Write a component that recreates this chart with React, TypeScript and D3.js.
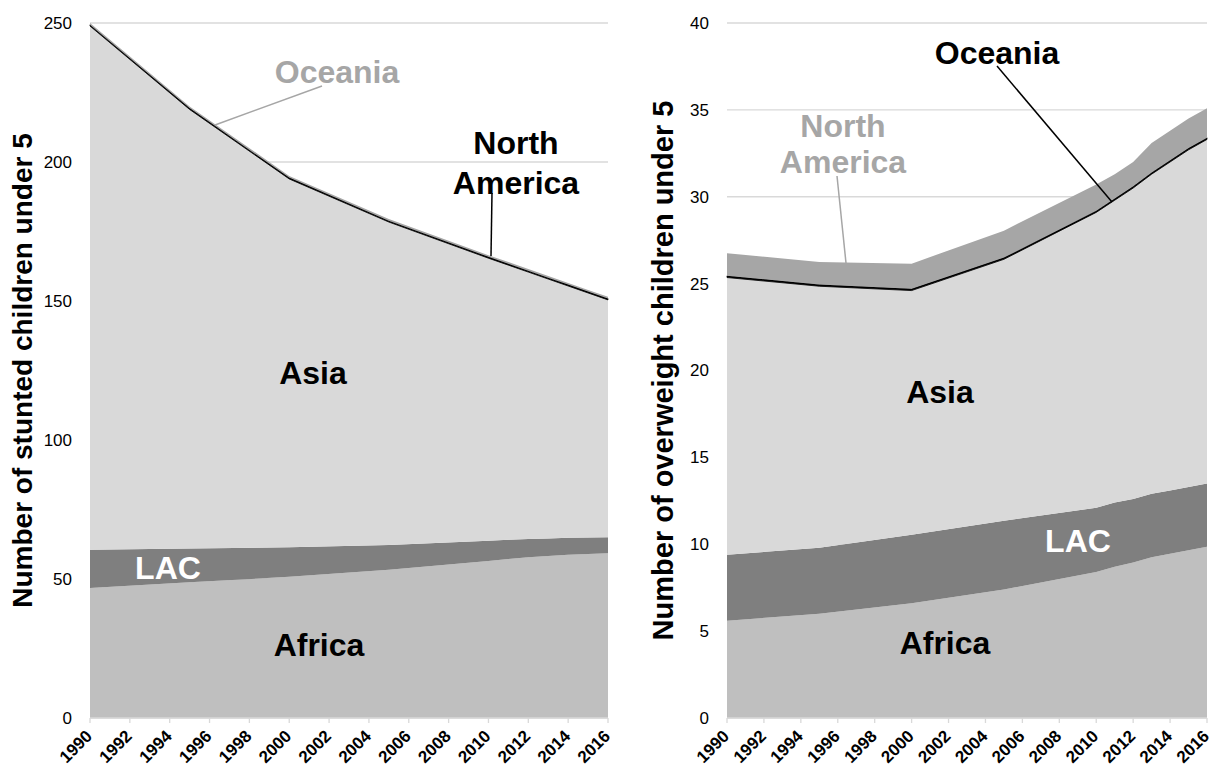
import React from "react";
import * as d3 from "d3";

const years = [1990, 1995, 2000, 2005, 2010, 2011, 2012, 2013, 2014, 2015, 2016];
const xTickYears = [1990, 1992, 1994, 1996, 1998, 2000, 2002, 2004, 2006, 2008, 2010, 2012, 2014, 2016];

// Stunted children under 5 (millions)
const stuntAfrica = [46.8, 48.8, 50.8, 53.3, 56.5, 57.2, 57.8, 58.3, 58.7, 59.0, 59.3];
const stuntLAC = [13.7, 12.2, 10.6, 8.9, 7.3, 6.9, 6.6, 6.3, 6.1, 5.9, 5.7];
const stuntAsia = [188.4, 157.9, 132.5, 116.2, 101.6, 98.8, 96.0, 93.3, 90.6, 88.0, 85.4];
const stuntOceania = [0.5, 0.5, 0.5, 0.5, 0.5, 0.5, 0.5, 0.5, 0.5, 0.5, 0.5];
const stuntNA = [0.6, 0.6, 0.6, 0.6, 0.6, 0.6, 0.6, 0.6, 0.6, 0.6, 0.6];
const stuntTicks = [0, 50, 100, 150, 200, 250];

// Overweight children under 5 (millions)
const overAfrica = [5.6, 6.0, 6.6, 7.4, 8.4, 8.7, 8.95, 9.25, 9.45, 9.65, 9.85];
const overLAC = [3.8, 3.8, 3.95, 3.95, 3.7, 3.7, 3.65, 3.65, 3.65, 3.65, 3.65];
const overAsia = [15.95, 15.05, 14.05, 15.05, 17.0, 17.4, 17.9, 18.4, 18.9, 19.4, 19.8];
const overOceania = [0.1, 0.1, 0.1, 0.1, 0.1, 0.1, 0.1, 0.1, 0.1, 0.1, 0.1];
const overNA = [1.3, 1.3, 1.45, 1.55, 1.5, 1.4, 1.4, 1.7, 1.7, 1.7, 1.7];
const overTicks = [0, 5, 10, 15, 20, 25, 30, 35, 40];

const seriesKeys = ["Africa", "LAC", "Asia", "Oceania", "North America"];
const seriesColors = ["#bfbfbf", "#7f7f7f", "#d9d9d9", "#000000", "#a6a6a6"];

const FONT = "Arial, 'Liberation Sans', sans-serif";

type Lbl = { text: string[]; x: number; y: number; color: string; size: number; lh?: number; leader?: [number, number, number, number] };

function Panel(props: {
  left: number; right: number; top: number; bottom: number;
  max: number; ticks: number[]; cols: number[][]; title: string; titleX: number; titleSize: number;
  labels: Lbl[];
}) {
  const { left, right, top, bottom, max, ticks, cols, title, titleX, titleSize, labels } = props;
  const x = d3.scaleLinear().domain([1990, 2016]).range([left, right]);
  const y = d3.scaleLinear().domain([0, max]).range([bottom, top]);
  const rows = years.map((yr, i) => {
    const r: any = { year: yr };
    seriesKeys.forEach((k, j) => (r[k] = cols[j][i]));
    return r;
  });
  const stacked = d3.stack<any>().keys(seriesKeys)(rows);
  const area = d3.area<any>().x((d) => x(d.data.year)).y0((d) => y(d[0])).y1((d) => y(d[1]));
  return (
    <g>
      {ticks.map((t) => (
        <line key={"g" + t} x1={left} x2={right} y1={y(t)} y2={y(t)} stroke="#d9d9d9" strokeWidth={1.3} />
      ))}
      {stacked.map((s, i) => (
        <path key={s.key} d={area(s) || ""} fill={seriesColors[i]} stroke={i === 3 ? "#000" : "none"} strokeWidth={i === 3 ? 0.8 : 0} />
      ))}
      <line x1={left} x2={right} y1={bottom} y2={bottom} stroke="#d9d9d9" strokeWidth={1.3} />
      {xTickYears.map((t) => (
        <g key={"x" + t}>
          <line x1={x(t)} x2={x(t)} y1={bottom} y2={bottom + 5} stroke="#d9d9d9" strokeWidth={1.3} />
          <text transform={`translate(${x(t) - 1},${bottom + 15}) rotate(-45)`} textAnchor="end" dy="0.35em"
            fontFamily={FONT} fontWeight="bold" fontSize={17} fill="#000">{t}</text>
        </g>
      ))}
      {ticks.map((t) => (
        <text key={"y" + t} x={left - 18} y={y(t)} dy="0.35em" textAnchor="end" fontFamily={FONT} fontSize={17} fill="#000">{t}</text>
      ))}
      <text transform={`translate(${titleX},${(top + bottom) / 2}) rotate(-90)`} textAnchor="middle" dy="0.35em"
        fontFamily={FONT} fontWeight="bold" fontSize={titleSize} fill="#000">{title}</text>
      {labels.map((l, i) => (
        <g key={"l" + i}>
          {l.leader && (
            <line x1={l.leader[0]} y1={l.leader[1]} x2={l.leader[2]} y2={l.leader[3]} stroke={l.color} strokeWidth={1.5} />
          )}
          {l.text.map((t, j) => (
            <text key={j} x={l.x} y={l.y + j * (l.lh || 40)} dy="0.35em" textAnchor="middle" fontFamily={FONT}
              fontWeight="bold" fontSize={l.size} fill={l.color}>{t}</text>
          ))}
        </g>
      ))}
    </g>
  );
}

export default function App() {
  return (
    <svg width={1214} height={769} style={{ position: "absolute", left: 0, top: 0, background: "#fff" }}>
      <Panel left={90} right={608} top={23} bottom={718} max={250} ticks={stuntTicks}
        cols={[stuntAfrica, stuntLAC, stuntAsia, stuntOceania, stuntNA]}
        title="Number of stunted children under 5" titleX={22} titleSize={28}
        labels={[
          { text: ["Asia"], x: 313, y: 373, color: "#000", size: 32 },
          { text: ["LAC"], x: 168, y: 568, color: "#fff", size: 32 },
          { text: ["Africa"], x: 319, y: 645, color: "#000", size: 32 },
          { text: ["Oceania"], x: 337, y: 72, color: "#a6a6a6", size: 32, leader: [322, 86, 215, 125] },
          { text: ["North", "America"], x: 516, y: 143, color: "#000", size: 32, lh: 40, leader: [492, 193, 491, 256] },
        ]} />
      <Panel left={727} right={1207} top={23} bottom={718} max={40} ticks={overTicks}
        cols={[overAfrica, overLAC, overAsia, overOceania, overNA]}
        title="Number of overweight children under 5" titleX={663} titleSize={29}
        labels={[
          { text: ["Asia"], x: 940, y: 392, color: "#000", size: 32 },
          { text: ["LAC"], x: 1078, y: 541, color: "#fff", size: 32 },
          { text: ["Africa"], x: 945, y: 643, color: "#000", size: 32 },
          { text: ["Oceania"], x: 997, y: 53, color: "#000", size: 32, leader: [997, 66, 1112, 202] },
          { text: ["North", "America"], x: 843, y: 126, color: "#a6a6a6", size: 32, lh: 36, leader: [837, 176, 846, 263] },
        ]} />
    </svg>
  );
}
